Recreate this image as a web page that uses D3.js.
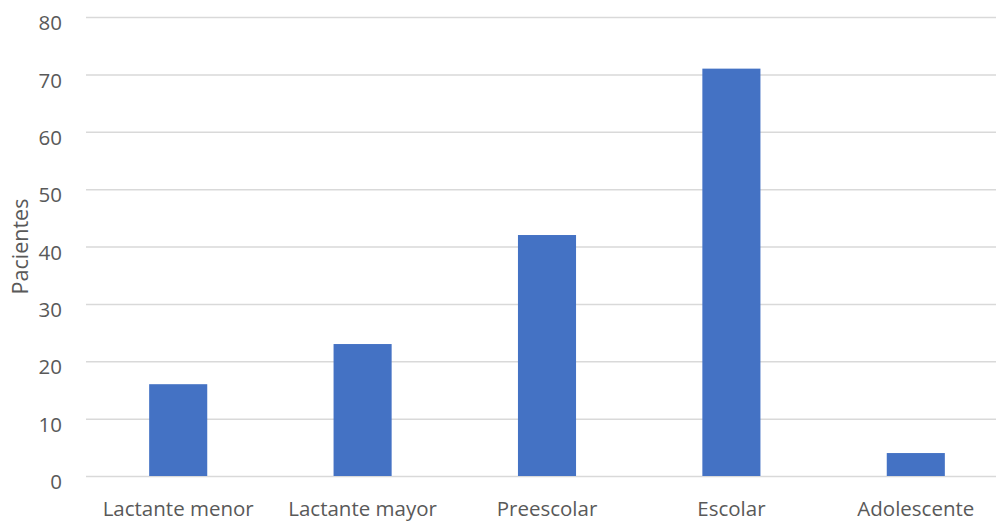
<!DOCTYPE html>
<html>
<head>
<meta charset="utf-8">
<script src="https://cdn.jsdelivr.net/npm/d3@7"></script>
<style>
  body { margin: 0; background: #fff; overflow: hidden; }
  svg { display: block; font-family: "Open Sans", sans-serif; }
</style>
</head>
<body>
<svg id="chart"></svg>
<script>
const categories = ["Lactante menor", "Lactante mayor", "Preescolar", "Escolar", "Adolescente"];
const pacientes = [16, 23, 42, 71, 4];
const yTicks = [0, 10, 20, 30, 40, 50, 60, 70, 80];

const width = 996, height = 523;
// plot area runs a little past the right edge, as in the source picture
const plot = { left: 86, right: 1008, top: 17, bottom: 476 };

const svg = d3.select("#chart").attr("width", width).attr("height", height);

const x = d3.scaleBand()
    .domain(categories)
    .range([plot.left, plot.right])
    .paddingInner(0.685)
    .paddingOuter(0.3425);

const y = d3.scaleLinear().domain([0, 80]).range([plot.bottom, plot.top]);

// gridlines + y labels
const yAxis = svg.append("g")
    .attr("transform", `translate(${plot.left},0)`)
    .call(d3.axisLeft(y).tickValues(yTicks).tickSize(-(plot.right - plot.left)).tickPadding(24));
yAxis.select(".domain").remove();
yAxis.selectAll(".tick line").attr("stroke", "#d9d9d9").attr("stroke-width", 1.5);
yAxis.selectAll(".tick text")
    .attr("fill", "#595959")
    .attr("font-size", "20.5px")
    .attr("font-family", "Open Sans, sans-serif")
    .attr("dy", "0.62em");

svg.append("g")
    .selectAll("rect")
    .data(pacientes)
    .join("rect")
    .attr("x", (d, i) => x(categories[i]))
    .attr("y", d => y(d))
    .attr("width", x.bandwidth())
    .attr("height", d => y(0) - y(d))
    .attr("fill", "#4472c4");

// x labels
const xAxis = svg.append("g")
    .attr("transform", `translate(0,${plot.bottom})`)
    .call(d3.axisBottom(x).tickSize(0).tickPadding(25));
xAxis.select(".domain").remove();
xAxis.selectAll(".tick text")
    .attr("fill", "#595959")
    .attr("font-size", "20.5px")
    .attr("font-family", "Open Sans, sans-serif");

svg.append("text")
    .attr("transform", `translate(28,${(plot.top + plot.bottom) / 2}) rotate(-90)`)
    .attr("text-anchor", "middle")
    .attr("fill", "#595959")
    .attr("font-size", "21.5px")
    .text("Pacientes");
</script>
</body>
</html>
